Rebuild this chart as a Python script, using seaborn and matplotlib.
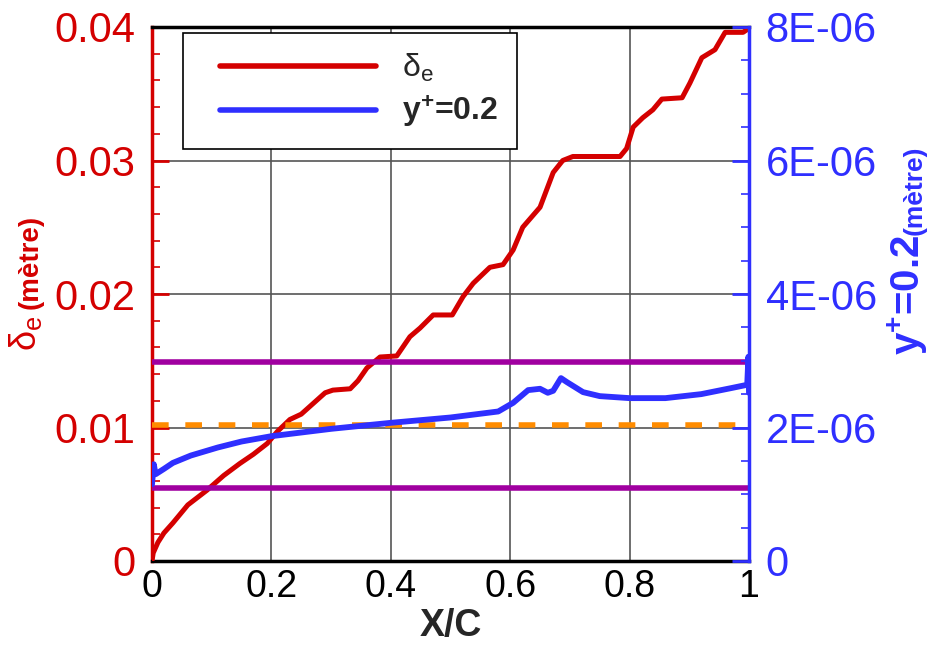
import matplotlib
matplotlib.use('Agg')
import matplotlib.pyplot as plt
from matplotlib.lines import Line2D
from matplotlib.legend_handler import HandlerLine2D
from matplotlib.ticker import MultipleLocator
import seaborn as sns

# data
red_x = [0, 0.002, 0.01, 0.02, 0.035, 0.06, 0.092, 0.12, 0.147, 0.17, 0.193, 0.21,
         0.231, 0.25, 0.27, 0.29, 0.303, 0.332, 0.345, 0.36, 0.382, 0.41, 0.432,
         0.449, 0.471, 0.503, 0.521, 0.538, 0.566, 0.588, 0.605, 0.621, 0.65,
         0.672, 0.688, 0.705, 0.784, 0.795, 0.806, 0.822, 0.839, 0.854, 0.888,
         0.901, 0.921, 0.943, 0.96, 0.99, 1.0]
red_y = [0, 0.0006, 0.0014, 0.0021, 0.00285, 0.0042, 0.0053, 0.0064, 0.0073, 0.0080,
         0.0088, 0.0097, 0.0106, 0.0110, 0.0118, 0.0126, 0.0128, 0.0129, 0.0135,
         0.01446, 0.01528, 0.01536, 0.0168, 0.01745, 0.01843, 0.01843, 0.0198,
         0.0208, 0.0220, 0.0222, 0.0233, 0.0250, 0.0265, 0.0291, 0.0300, 0.0303,
         0.0303, 0.0309, 0.0325, 0.0332, 0.0338, 0.0346, 0.0347, 0.0358, 0.0377,
         0.0383, 0.0396, 0.0396, 0.0399]

blue_x = [0.0, 0.003, 0.006, 0.02, 0.035, 0.065, 0.11, 0.15, 0.2, 0.3, 0.4, 0.5,
          0.58, 0.605, 0.63, 0.65, 0.663, 0.672, 0.685, 0.695, 0.722, 0.75, 0.8,
          0.86, 0.92, 0.97, 0.997, 0.999, 1.0]
blue_y = [1.15e-6, 1.45e-6, 1.3e-6, 1.38e-6, 1.47e-6, 1.58e-6, 1.7e-6, 1.79e-6,
          1.87e-6, 1.98e-6, 2.07e-6, 2.15e-6, 2.24e-6, 2.37e-6, 2.56e-6, 2.58e-6,
          2.52e-6, 2.55e-6, 2.74e-6, 2.68e-6, 2.53e-6, 2.47e-6, 2.44e-6, 2.44e-6,
          2.5e-6, 2.59e-6, 2.64e-6, 3.06e-6, 2.52e-6]

purple_levels = [0.0149, 0.00547]
orange_level = 0.0102

x_ticks = [0, 0.2, 0.4, 0.6, 0.8, 1]
x_ticklabels = ['0', '0.2', '0.4', '0.6', '0.8', '1']
left_ticks = [0, 0.01, 0.02, 0.03, 0.04]
left_ticklabels = ['0', '0.01', '0.02', '0.03', '0.04']
right_ticks = [0, 2e-6, 4e-6, 6e-6, 8e-6]
right_ticklabels = ['0', '2E-06', '4E-06', '6E-06', '8E-06']

RED = '#d40000'
BLUE = '#2f2fff'
PURPLE = '#a000a0'
ORANGE = '#ff8c00'

sns.set_style('white')
plt.rcParams['font.family'] = ['Liberation Sans', 'DejaVu Sans']
plt.rcParams['mathtext.fontset'] = 'custom'
plt.rcParams['mathtext.rm'] = 'Liberation Sans'
plt.rcParams['mathtext.it'] = 'Liberation Sans:italic'
plt.rcParams['mathtext.bf'] = 'Liberation Sans:bold'

fig = plt.figure(figsize=(9.38, 6.48), dpi=100)
ax = fig.add_axes([152/938, 87/648, 597/938, 534/648])
ax2 = ax.twinx()

sns.lineplot(x=red_x, y=red_y, ax=ax, color=RED, lw=3.6, sort=False, estimator=None, zorder=3)
for lvl in purple_levels:
    ax.axhline(lvl, color=PURPLE, lw=4, zorder=4)
ax.axhline(orange_level, color=ORANGE, lw=4, dashes=(3, 3), zorder=4)
sns.lineplot(x=blue_x, y=blue_y, ax=ax2, color=BLUE, lw=4.2, sort=False, estimator=None)

ax.set_xlim(0, 1)
ax.set_ylim(0, 0.04)
ax2.set_ylim(0, 8e-6)

ax.grid(True, which='major', color='#555555', lw=1.2)
ax.set_axisbelow(True)

ax.set_xticks(x_ticks, x_ticklabels)
ax.set_yticks(left_ticks, left_ticklabels)
ax2.set_yticks(right_ticks, right_ticklabels)
ax.xaxis.set_minor_locator(MultipleLocator(0.04))
ax.yaxis.set_minor_locator(MultipleLocator(0.002))
ax2.yaxis.set_minor_locator(MultipleLocator(5e-7))

ax.tick_params(axis='x', which='both', direction='in', colors='black', labelsize=27, pad=6)
ax.tick_params(axis='y', which='both', direction='in', colors=RED, labelsize=30, pad=12, right=False)
ax2.tick_params(axis='y', which='both', direction='in', colors=BLUE, labelsize=30, pad=12)
for a in (ax, ax2):
    a.tick_params(which='major', length=12, width=2)
    a.tick_params(which='minor', length=6, width=1.2)
    a.set_ylabel('')

ax.spines['left'].set_color(RED)
ax.spines['right'].set_visible(False)
ax2.spines['left'].set_visible(False)
ax2.spines['bottom'].set_visible(False)
ax2.spines['top'].set_visible(False)
ax2.spines['right'].set_color(BLUE)
for s in ['left', 'bottom', 'top']:
    ax.spines[s].set_linewidth(2.5)
ax.spines['top'].set_color('black')
ax.spines['bottom'].set_color('black')
ax2.spines['right'].set_linewidth(2.5)

ax.set_xlabel('X/C', fontsize=27, fontweight='bold', labelpad=2)

handles = [Line2D([], [], color=RED, lw=4), Line2D([], [], color=BLUE, lw=4)]
labels = [r'$\mathrm{\delta}_{\mathrm{e}}$', r'y$^{\mathbf{+}}$=0.2']
leg = ax2.legend(handles, labels, loc='upper left', bbox_to_anchor=(183/938, 1 - 33/648),
                 bbox_transform=fig.transFigure, borderaxespad=0, fontsize=23,
                 handlelength=5.45, handletextpad=0.8, borderpad=0.6, labelspacing=0.3,
                 fancybox=False, framealpha=1, edgecolor='black',
                 handler_map={Line2D: HandlerLine2D(xpad=0.56)})
leg.get_frame().set_linewidth(1.2)
leg.get_texts()[1].set_fontweight('bold')

fig.text(25/938, 1 - 333/648, r'$\mathrm{\delta}_{\mathrm{e}}$', rotation=90, fontsize=26,
         color=RED, ha='center', va='center')
fig.text(31/938, 1 - 262/648, '(mètre)', rotation=90, fontsize=20, fontweight='bold',
         color=RED, ha='center', va='center')
fig.text(908/938, 1 - 295/648, r'y$^{\mathbf{+}}$=0.2', rotation=90, fontsize=29,
         fontweight='bold', color=BLUE, ha='center', va='center')
fig.text(915/938, 1 - 190/648, '(mètre)', rotation=90, fontsize=19, fontweight='bold',
         color=BLUE, ha='center', va='center')

fig.savefig('out.png', dpi=100)
